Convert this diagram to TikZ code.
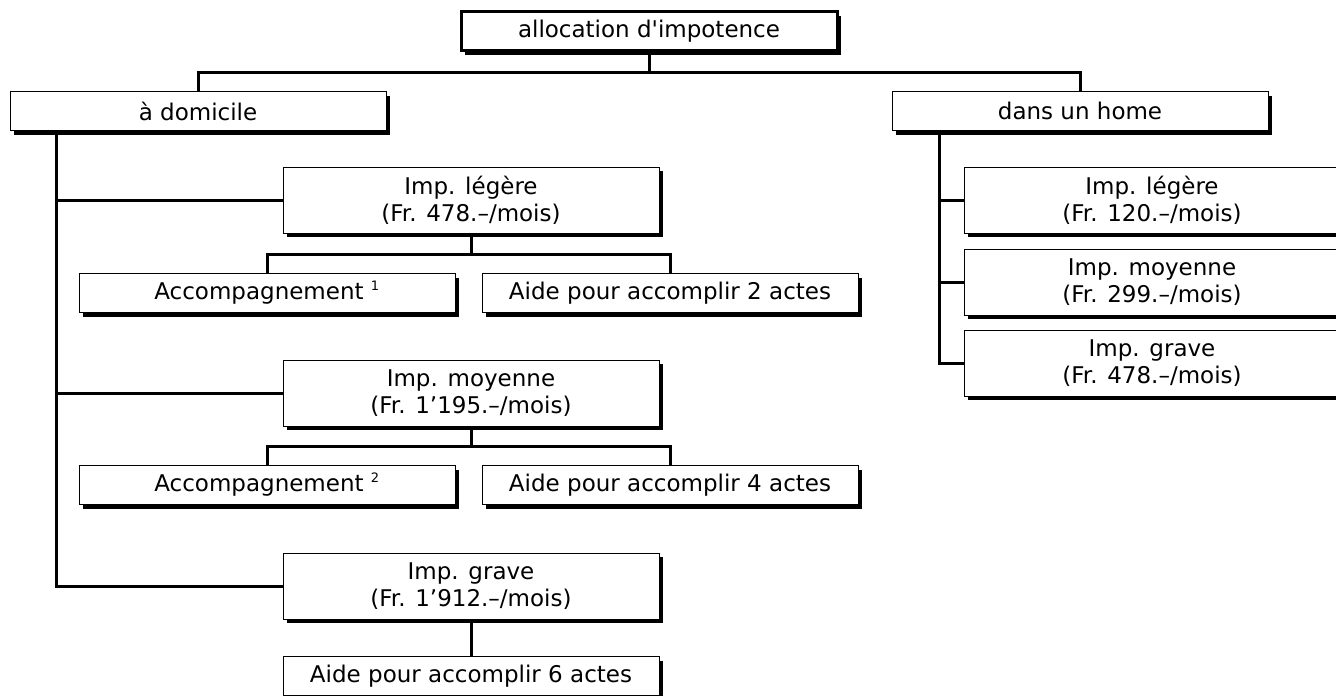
\documentclass[tikz,border=0pt]{standalone}
\usepackage{fontspec}
\newfontfamily\boxfont{DejaVu Sans}
\usetikzlibrary{shadows}
\tikzset{
  box/.style={draw, fill=white, line width=1pt, minimum width=376pt,
    inner sep=0pt, align=center, font=\boxfont\fontsize{23}{27}\selectfont,
    drop shadow={shadow xshift=4pt, shadow yshift=-4pt, fill=black, opacity=1}},
  tall/.style={box, minimum height=66pt},
  flat/.style={box, minimum height=39pt},
  link/.style={line width=3pt}
}
\begin{document}
\begin{tikzpicture}[x=1pt, y=-1pt]
      \clip (0,0) rectangle (1336,696);
      \node[flat, line width=3pt] (titre) at (649,31) {allocation d'impotence};
      \node[flat] (dom) at (198,111) {à domicile};
      \node[flat] (home) at (1080,111) {dans un home};
      % a domicile
      \node[tall] (legG) at (471,200) {Imp. légère\\(Fr. 478.–/mois)};
      \node[flat] (acc1) at (267,293) {Accompagnement \textsuperscript{\fontsize{13}{13}\selectfont 1}};
      \node[flat] (aide2) at (670,293) {Aide pour accomplir 2 actes};
      \node[tall] (moyG) at (471,393) {Imp. moyenne\\(Fr. 1’195.–/mois)};
      \node[flat] (acc2) at (267,485) {Accompagnement \textsuperscript{\fontsize{13}{13}\selectfont 2}};
      \node[flat] (aide4) at (670,485) {Aide pour accomplir 4 actes};
      \node[tall] (graveG) at (471,586) {Imp. grave\\(Fr. 1’912.–/mois)};
      \node[flat] (aide6) at (471,676) {Aide pour accomplir 6 actes};
      % dans un home
      \node[tall] (legH) at (1152,200) {Imp. légère\\(Fr. 120.–/mois)};
      \node[tall] (moyH) at (1152,282) {Imp. moyenne\\(Fr. 299.–/mois)};
      \node[tall] (graveH) at (1152,363) {Imp. grave\\(Fr. 478.–/mois)};
      \begin{scope}[link]
        \draw (titre.south) -- ++(0,20) -| (dom.north);
        \draw (titre.south) -- ++(0,20) -| (home.north);
        \draw ([xshift=47pt]dom.south west) |- (legG.west);
        \draw ([xshift=47pt]dom.south west) |- (moyG.west);
        \draw ([xshift=47pt]dom.south west) |- (graveG.west);
        \draw (legG.south) -- ++(0,21) -| (acc1.north);
        \draw (legG.south) -- ++(0,21) -| (aide2.north);
        \draw (moyG.south) -- ++(0,20) -| (acc2.north);
        \draw (moyG.south) -- ++(0,20) -| (aide4.north);
        \draw (graveG.south) -- (aide6.north);
        \draw ([xshift=48pt]home.south west) |- (legH.west);
        \draw ([xshift=48pt]home.south west) |- (moyH.west);
        \draw ([xshift=48pt]home.south west) |- (graveH.west);
      \end{scope}
    \end{tikzpicture}
\end{document}
